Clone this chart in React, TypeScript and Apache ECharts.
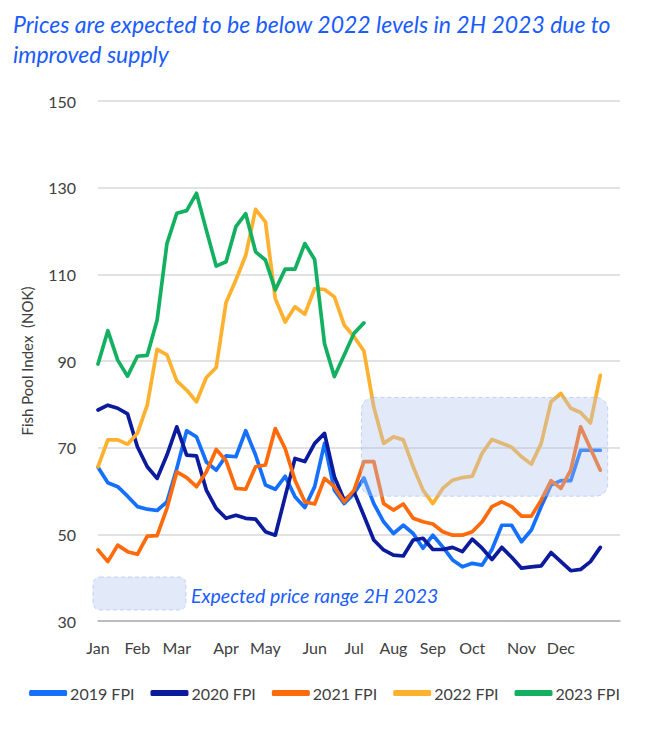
import React, { useEffect, useRef } from 'react';
import * as echarts from 'echarts';

const weeks: string[] = [
  'W1','W2','W3','W4','W5','W6','W7','W8','W9','W10','W11','W12','W13',
  'W14','W15','W16','W17','W18','W19','W20','W21','W22','W23','W24','W25','W26',
  'W27','W28','W29','W30','W31','W32','W33','W34','W35','W36','W37','W38','W39',
  'W40','W41','W42','W43','W44','W45','W46','W47','W48','W49','W50','W51','W52',
];
const axisPadding: string[] = ['', ''];

const months = ['Jan','Feb','Mar','Apr','May','Jun','Jul','Aug','Sep','Oct','Nov','Dec'];
const monthWeekIndex = [0, 4, 8, 13, 17, 22, 26, 30, 34, 38, 43, 47];

const yMin = 30;
const yMax = 150;
const yStep = 20;

const fpi2019 = [
  65.5, 61.9, 61, 58.8, 56.4, 55.8, 55.5, 57.5, 65.2, 73.9, 72.5, 66.7, 64.8,
  68.1, 67.9, 73.9, 68.3, 61.4, 60.4, 63.4, 58.7, 56.2, 61, 71, 60.2, 57.1,
  59.4, 63, 57.1, 52.9, 50.2, 52.1, 50.2, 46.8, 49.8, 47.1, 44.1, 42.5, 43.3,
  42.9, 46.5, 52.1, 52.1, 48.3, 51, 56.4, 61.4, 62.4, 62.4, 69.4, 69.4, 69.4,
];
const fpi2020 = [
  78.7, 79.8, 79.1, 77.8, 70.2, 65.6, 62.9, 68.3, 74.8, 68.3, 68.1, 60.2, 56,
  53.7, 54.4, 53.7, 53.5, 50.6, 49.8, 58.7, 67.5, 66.8, 71, 73.3, 63.3, 57.9,
  59.8, 54.3, 48.7, 46.4, 45.2, 45, 48.7, 49.1, 46.5, 46.5, 47, 46, 48.9,
  46.8, 44.2, 47, 44.7, 42.2, 42.5, 42.7, 45.8, 43.7, 41.6, 41.9, 43.7, 47,
];
const fpi2021 = [
  46.4, 43.7, 47.5, 46, 45.4, 49.6, 49.7, 56, 64.4, 63.1, 61, 64.4, 69.6,
  67, 60.6, 60.4, 65.6, 66, 74.4, 69.8, 62.5, 57.5, 57, 62.9, 61, 57.5,
  60.2, 66.8, 66.8, 57.1, 55.6, 57, 53.7, 52.9, 52.4, 50.6, 49.8, 49.8, 50.6,
  52.9, 56.4, 57.5, 56.4, 54.2, 54.2, 57.9, 62.4, 60.6, 64.8, 74.8, 69.8, 64.8,
];
const fpi2022 = [
  65.6, 71.8, 71.8, 70.8, 73.3, 79.8, 92.7, 91.4, 85.4, 83.3, 80.6, 86.2, 88.5,
  103.5, 108.7, 114.4, 125, 122.1, 104.4, 99, 102.5, 100.8, 106.7, 106.5, 104.8, 98.3,
  95.6, 92.3, 79.4, 71, 72.5, 71.8, 65.6, 60.2, 57.1, 60.6, 62.5, 63.1, 63.4,
  68.7, 71.9, 71, 70.1, 67.9, 66.2, 71, 80.6, 82.5, 79.1, 78.1, 75.7, 86.7,
];
const fpi2023 = [
  89.3, 97, 90.2, 86.5, 91.1, 91.3, 99.4, 117.1, 124.1, 124.7, 128.7, 120.2, 111.9,
  112.9, 121, 124, 115.2, 113.3, 106.4, 111.2, 111.2, 117.1, 113.4, 94, 86.4, 91.4,
  96.4, 98.8,
];

const seriesNames = ['2019 FPI', '2020 FPI', '2021 FPI', '2022 FPI', '2023 FPI'];
const seriesData = [fpi2019, fpi2020, fpi2021, fpi2022, fpi2023];
const seriesColors = ['#1570ff', '#0c1a9c', '#ff6a0a', '#fdb12f', '#13b062'];

const expectedLow = 58.8;
const expectedHigh = 81.6;
const expectedFromWeek = 26.75;
const expectedToWeek = 51.75;

const titleText = 'Prices are expected to be below 2022 levels in 2H 2023 due to\nimproved supply';
const yAxisName = 'Fish Pool Index  (NOK)';
const rangeLabel = 'Expected price range 2H 2023';

const FONT = 'Lato, "Noto Sans", sans-serif';

export default function App() {
  const ref = useRef<HTMLDivElement>(null);

  useEffect(() => {
    if (!ref.current) return;
    const chart = echarts.init(ref.current, null, { renderer: 'svg' });
    const categories = [...weeks, ...axisPadding];
    const monthMap: Record<number, string> = {};
    monthWeekIndex.forEach((w, i) => { monthMap[w] = months[i]; });

    chart.setOption({
      animation: false,
      backgroundColor: '#ffffff',
      textStyle: { fontFamily: FONT },
      title: {
        text: titleText,
        left: 8,
        top: 4,
        textStyle: {
          fontFamily: FONT,
          fontStyle: 'italic',
          fontWeight: 'normal',
          fontSize: 23,
          lineHeight: 30,
          color: '#1a5cff',
        },
      },
      legend: {
        data: seriesNames,
        left: 'center',
        top: 680,
        icon: 'roundRect',
        itemWidth: 38,
        itemHeight: 6,
        itemGap: 16,
        textStyle: { fontFamily: FONT, fontSize: 16, color: '#404040', padding: [0, 0, 0, -2] },
      },
      grid: { left: 98, right: 29, top: 101, bottom: 114, containLabel: false },
      xAxis: {
        type: 'category',
        data: categories,
        boundaryGap: false,
        axisLine: { show: true, lineStyle: { color: '#b0b0b0', width: 1.5 } },
        axisTick: { show: false },
        splitLine: { show: false },
        axisLabel: {
          interval: (idx: number) => monthMap[idx] !== undefined,
          formatter: (_v: string, idx: number) => monthMap[idx] ?? '',
          color: '#404040',
          fontSize: 16,
          fontFamily: FONT,
          margin: 18,
        },
      },
      yAxis: {
        type: 'value',
        min: yMin,
        max: yMax,
        interval: yStep,
        name: yAxisName,
        nameLocation: 'middle',
        nameGap: 64,
        nameRotate: 90,
        nameTextStyle: { color: '#404040', fontSize: 15, fontFamily: FONT },
        axisLine: { show: false },
        axisTick: { show: false },
        axisLabel: { color: '#404040', fontSize: 16, fontFamily: FONT, margin: 22 },
        splitLine: { lineStyle: { color: '#d9d9d9', width: 1.5 } },
      },
      series: seriesNames.map((name, i) => ({
        name,
        type: 'line',
        data: seriesData[i],
        symbol: 'none',
        color: seriesColors[i],
        lineStyle: { width: 3.7, color: seriesColors[i], join: 'round', cap: 'round' },
        z: 2 + i,
      })),
    });

    const pa = chart.convertToPixel({ gridIndex: 0 } as any, [0, expectedHigh]) as number[];
    const pb = chart.convertToPixel({ gridIndex: 0 } as any, [1, expectedLow]) as number[];
    const step = pb[0] - pa[0];
    const x0 = pa[0] + expectedFromWeek * step;
    const x1 = pa[0] + expectedToWeek * step;

    chart.setOption({
      graphic: [
        {
          type: 'rect',
          z: 100,
          shape: { x: x0, y: pa[1], width: x1 - x0, height: pb[1] - pa[1], r: 12 },
          style: {
            fill: 'rgba(175,197,240,0.36)',
            stroke: 'rgba(150,180,240,0.55)',
            lineWidth: 1,
            lineDash: [4, 3],
          },
        },
        {
          type: 'rect',
          z: 100,
          shape: { x: 93, y: 577, width: 93, height: 33, r: 7 },
          style: {
            fill: 'rgba(175,197,240,0.36)',
            stroke: 'rgba(150,180,240,0.55)',
            lineWidth: 1,
            lineDash: [4, 3],
          },
        },
        {
          type: 'text',
          z: 100,
          x: 191,
          y: 595,
          style: {
            text: rangeLabel,
            fill: '#1a5cff',
            fontSize: 19.5,
            fontStyle: 'italic',
            fontFamily: FONT,
            verticalAlign: 'middle',
            align: 'left',
          },
        },
      ],
    });

    return () => chart.dispose();
  }, []);

  return (
    <div
      ref={ref}
      style={{ position: 'absolute', left: 0, top: 0, width: 649, height: 735 }}
    />
  );
}
